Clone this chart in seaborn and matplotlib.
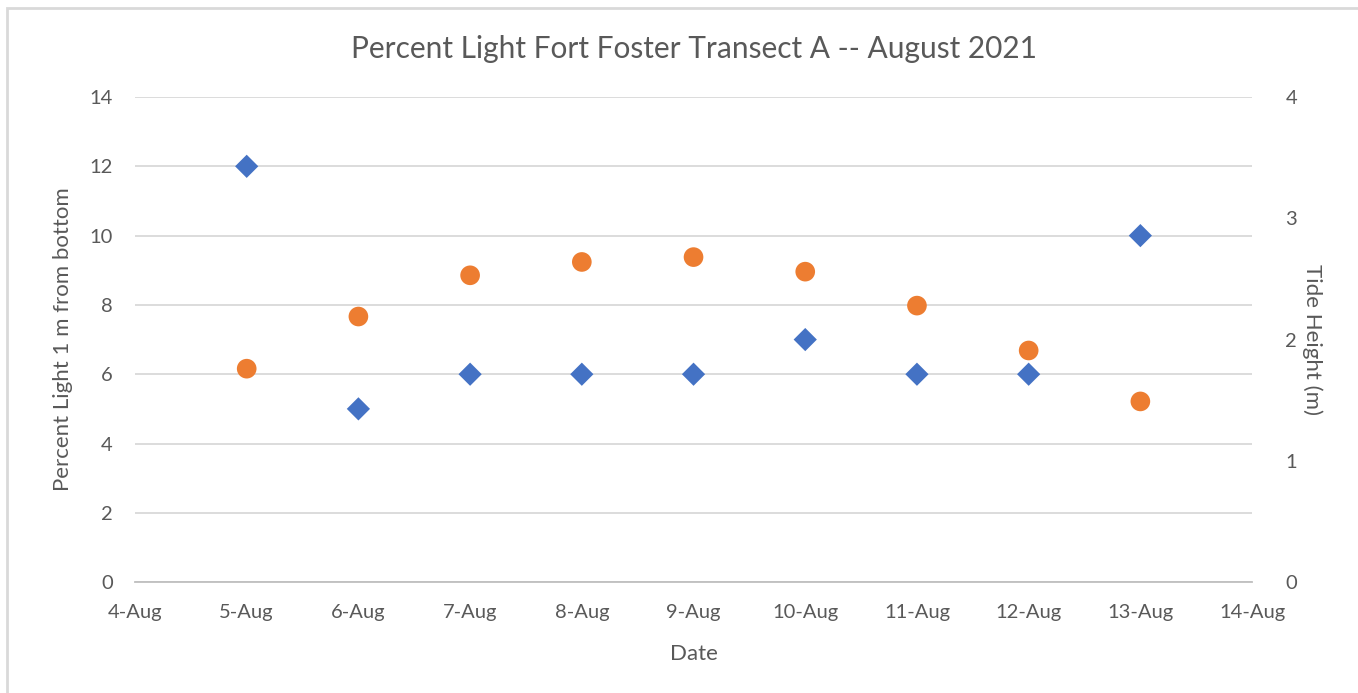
import matplotlib.pyplot as plt
import matplotlib.patches as mpatches
import pandas as pd
import seaborn as sns

# data
days = [5, 6, 7, 8, 9, 10, 11, 12, 13]
percent_light = [12, 5, 6, 6, 6, 7, 6, 6, 10]
tide_height = [1.76, 2.19, 2.53, 2.64, 2.68, 2.56, 2.28, 1.91, 1.49]
tick_days = [4, 5, 6, 7, 8, 9, 10, 11, 12, 13, 14]
tick_labels = ["4-Aug", "5-Aug", "6-Aug", "7-Aug", "8-Aug", "9-Aug",
               "10-Aug", "11-Aug", "12-Aug", "13-Aug", "14-Aug"]

df = pd.DataFrame({"day": days, "light": percent_light, "tide": tide_height})

sns.set_style("white")
plt.rcParams["font.family"] = ["Lato", "DejaVu Sans"]
text_color = "#595959"

fig = plt.figure(figsize=(13.58, 6.93), dpi=100)
fig.patches.append(mpatches.Rectangle((0.005, -0.01), 1.2, 0.998, transform=fig.transFigure,
                                      fill=False, edgecolor="#d9d9d9", linewidth=2))
ax = fig.add_axes([0.0994, 0.160, 0.8226, 0.700])
ax2 = ax.twinx()

sns.scatterplot(data=df, x="day", y="light", ax=ax, marker="D", s=140,
                color="#4472C4", edgecolor="none", zorder=3)
sns.scatterplot(data=df, x="day", y="tide", ax=ax2, marker="o", s=200,
                color="#ED7D31", edgecolor="none", zorder=3)

ax.set_xlim(4, 14)
ax.set_ylim(0, 14)
ax.set_yticks(range(0, 15, 2))
ax2.set_ylim(0, 4)
ax2.set_yticks(range(0, 5))
ax.set_xticks(tick_days)
ax.set_xticklabels(tick_labels)

ax.grid(axis="y", color="#d9d9d9", linewidth=1.3)
ax.set_axisbelow(True)
for a in (ax, ax2):
    for s in a.spines.values():
        s.set_visible(False)
    a.tick_params(length=0, labelsize=14.5, colors=text_color)
ax.spines["bottom"].set_visible(True)
ax.spines["bottom"].set_color("#bfbfbf")
ax.spines["bottom"].set_linewidth(1.3)
ax.tick_params(axis="x", pad=16)
ax.tick_params(axis="y", pad=16)
ax2.tick_params(axis="y", pad=24)

ax.set_xlabel("Date", fontsize=16, color=text_color, labelpad=16)
ax.set_ylabel("Percent Light 1 m from bottom", fontsize=16, color=text_color, labelpad=12)
ax2.set_ylabel("Tide Height (m)", fontsize=16, color=text_color, rotation=270, labelpad=18)
ax.set_title("Percent Light Fort Foster Transect A -- August 2021", fontsize=21.5,
             color=text_color, pad=28)

fig.savefig("out.png", dpi=100)
